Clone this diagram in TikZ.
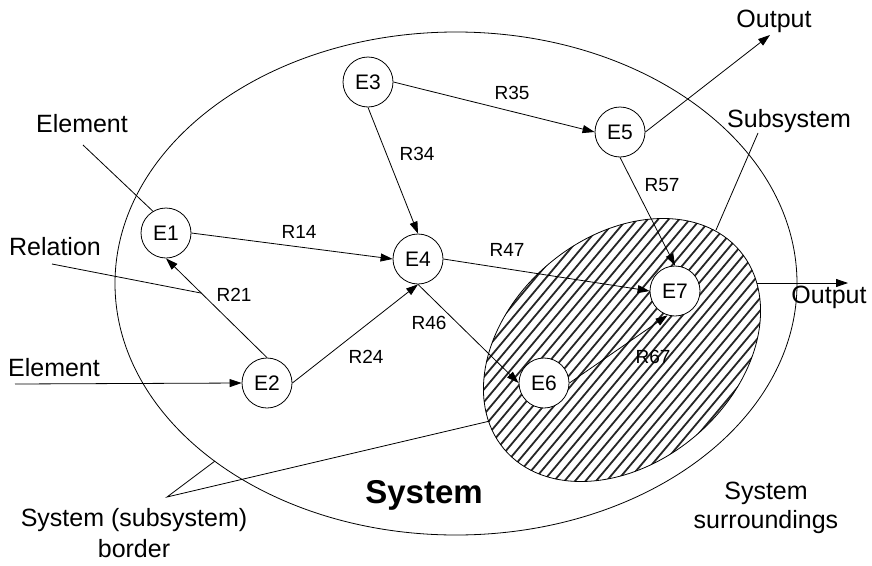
\documentclass[tikz,border=0pt]{standalone}
\usepackage{fontspec}
\setmainfont{Liberation Sans}
\usetikzlibrary{arrows.meta,calc}
\begin{document}
\begin{tikzpicture}[x=1pt,y=-1pt,
  elem/.style={circle,draw,fill=white,minimum size=50pt,inner sep=0pt,line width=0.8pt,font=\fontsize{21}{24}\selectfont},
  rel/.style={font=\fontsize{19}{22}\selectfont,inner sep=0pt},
  lbl/.style={font=\fontsize{25}{29}\selectfont,inner sep=0pt,anchor=base},
  conn/.style={line width=0.8pt,-{Triangle[length=12pt,width=8pt]}},
  lead/.style={line width=0.8pt},
  border/.style={line width=0.8pt},
  stripe/.style={line width=1.8pt,black!85}]
\useasboundingbox (0,0) rectangle (872,565);

% system border
\draw[border] (456,283.5) ellipse [x radius=341, y radius=251.5];

% hatched subsystem
\begin{scope}
  \clip[rotate around={40:(622,350)}] (622,350) ellipse [x radius=154, y radius=113];
  \foreach \i in {-24,...,24}
    \draw[stripe] ({622+\i*10.5-220*cos(50)},{350+220*sin(50)}) -- ++({440*cos(50)},{-440*sin(50)});
\end{scope}
\draw[border,rotate around={40:(622,350)}] (622,350) ellipse [x radius=154, y radius=113];

% elements
\node[elem] (E1) at (166,233) {E1};
\node[elem] (E2) at (267,383) {E2};
\node[elem] (E3) at (368,82) {E3};
\node[elem] (E4) at (418,259) {E4};
\node[elem] (E5) at (620,132) {E5};
\node[elem] (E6) at (544,383) {E6};
\node[elem] (E7) at (675,291) {E7};

% free ends
\coordinate (inE) at (15,384);
\coordinate (outT) at (770,35);
\coordinate (outRs) at (757,283);
\coordinate (outRe) at (848,283);
\coordinate (lElem) at (83,145);
\coordinate (lRel) at (52,264);
\coordinate (lSub) at (758,133);
\coordinate (lSubE) at (716,230);
\coordinate (apex) at (167,497);
\coordinate (bSys) at (215,461);
\coordinate (bSub) at (490,421);

% relations
\draw[conn] (E1.east) -- (E4.west);
\draw[conn] (E2.north) -- (E1.south);
\draw[conn] (E2.east) -- (E4.south);
\draw[conn] (E3.south) -- (E4.north);
\draw[conn] (E3.east) -- (E5.west);
\draw[conn] (E4.east) -- (E7.west);
\draw[conn] (E4.south) -- (E6.west);
\draw[conn] (E5.south) -- (E7.north);
\draw[conn] (E6.east) -- (E7.253);
\draw[conn] (E5.east) -- (outT);
\draw[conn] (inE) -- (E2.west);
\draw[conn] (outRs) -- (outRe);

% leader lines
\draw[lead] (lElem) -- (E1.121);
\coordinate (onR21) at ($(E2.north)!0.65!(E1.south)$);
\draw[lead] (lRel) -- (onR21);
\draw[lead] (lSub) -- (lSubE);
\draw[lead] (bSys) -- (apex) -- (bSub);

% relation labels
\node[rel] (r14) at (299,232) {R14};
\node[rel] (r21) at (234,295) {R21};
\node[rel] (r24) at (366,357) {R24};
\node[rel] (r46) at (429,323) {R46};
\node[rel] (r34) at (417,154) {R34};
\node[rel] (r35) at (512,93) {R35};
\node[rel] (r57) at (662,185) {R57};
\node[rel] (r47) at (507,250) {R47};
\node[rel] (r67) at (653,357) {R67};

% annotations
\node[lbl] (tElem1) at (82,132) {Element};
\node[lbl] (tRel) at (55,255) {Relation};
\node[lbl] (tElem2) at (54,376) {Element};
\node[lbl] (tOut1) at (774,27) {Output};
\node[lbl] (tSub) at (789,127) {Subsystem};
\node[lbl] (tOut2) at (829,303) {Output};
\node[lbl] (tSur1) at (766,499) {System};
\node[lbl] (tSur2) at (766,528) {surroundings};
\node[lbl,font=\fontsize{33}{38}\selectfont\bfseries] (tSys) at (424,503) {System};
\node[lbl] (tBor1) at (134,526) {System (subsystem)};
\node[lbl] (tBor2) at (134,557) {border};
\end{tikzpicture}
\end{document}
